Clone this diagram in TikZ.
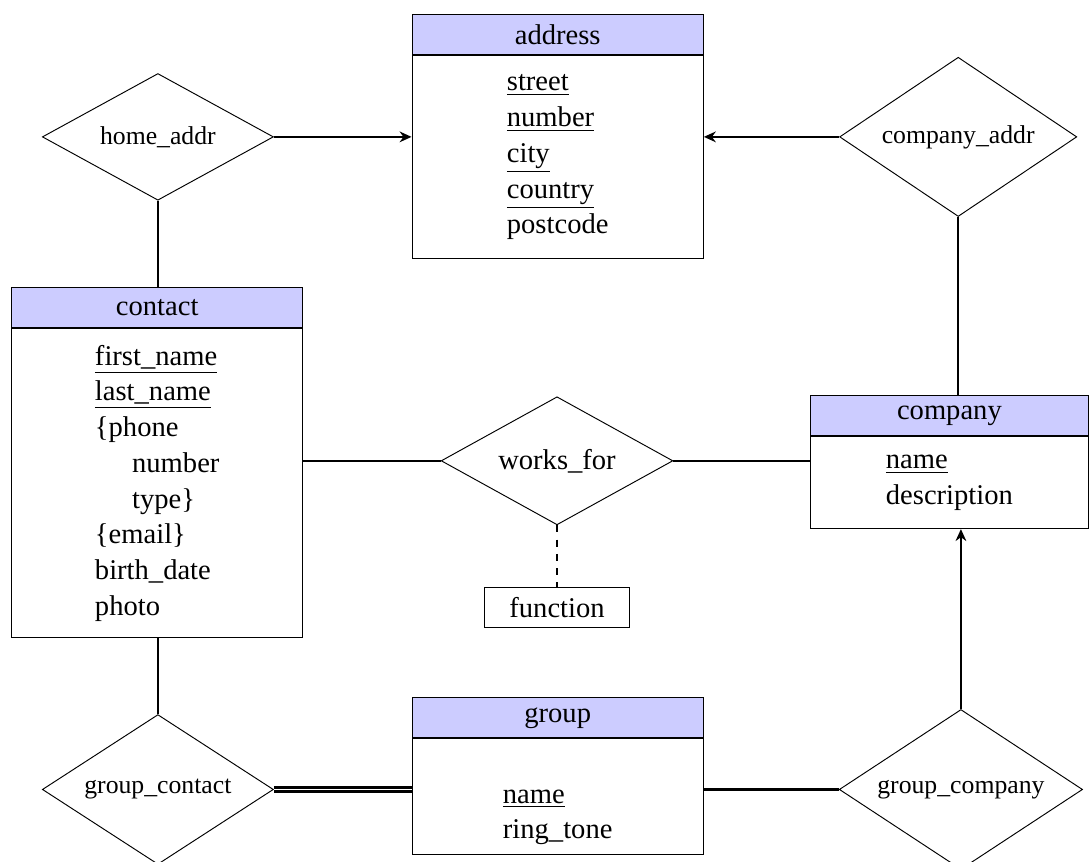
\documentclass[tikz,border=0pt]{standalone}
\usepackage{fontspec}
\setmainfont{Liberation Serif}
\usetikzlibrary{positioning, arrows.meta, shapes.geometric}

\begin{document}
\begin{tikzpicture}[every entity/.style={rectangle, draw, minimum width=4.3cm, inner sep=0pt, font=\fontsize{12}{15}\selectfont},
    entity head/.style={every entity, fill=blue!20, minimum height=0.59cm, anchor=north},
    entity body/.style={every entity, align=left},
    relation/.style={diamond, draw, aspect=2, inner sep=1pt, font=\fontsize{10.8}{13}\selectfont},
    link/.style={line width=1pt},
    >={Stealth[length=5pt, width=4.5pt]}]

    \useasboundingbox (0, 0) rectangle (16.07, -12.71);

    % Entities - blue header with attribute list below
    \node[entity head] (address-head) at (8.23, -0.21) {address};
    \node[entity body, minimum height=3.0cm, below=0pt of address-head] (address)
        {\underline{street}\\ \underline{number}\\ \underline{city}\\ \underline{country}\\ postcode};

    \node[entity head] (contact-head) at (2.32, -4.24) {contact};
    \node[entity body, minimum height=4.56cm, below=0pt of contact-head] (contact)
        {\underline{first\_name}\\ \underline{last\_name}\\ \{phone\\ \hspace*{1.3em}number\\ \hspace*{1.3em}type\}\\ \{email\}\\ birth\_date\\ photo};

    \node[entity head, minimum width=4.09cm] (company-head) at (14.01, -5.83) {company};
    \node[entity body, minimum width=4.09cm, minimum height=1.36cm, below=0pt of company-head] (company)
        {\underline{name}\\ description};

    \node[entity head] (group-head) at (8.23, -10.29) {group};
    \node[entity body, minimum height=1.71cm, below=0pt of group-head] (group)
        {\rule{0pt}{23pt}\underline{name}\\ ring\_tone};

    % Relationships - diamonds
    \node[relation, minimum width=3.41cm, minimum height=1.87cm] (home-addr) at (2.33, -2.02) {home\_addr};
    \node[relation, minimum width=3.50cm, minimum height=2.35cm] (company-addr) at (14.14, -2.02) {company\_addr};
    \node[relation, minimum width=3.42cm, minimum height=1.89cm, font=\fontsize{12}{15}\selectfont] (works-for) at (8.22, -6.80) {works\_for};
    \node[relation, minimum width=3.41cm, minimum height=2.21cm] (group-contact) at (2.33, -11.65) {group\_contact};
    \node[relation, minimum width=3.59cm, minimum height=2.36cm] (group-company) at (14.18, -11.65) {group\_company};

    % Attribute of works_for
    \node[draw, rectangle, minimum width=2.15cm, minimum height=0.59cm, font=\fontsize{12}{15}\selectfont] (function) at (8.22, -8.96) {function};

    % Connections
    \draw[link, ->] (home-addr) -- (home-addr -| address.west);
    \draw[link, ->] (company-addr) -- (company-addr -| address.east);
    \draw[link] (home-addr.south) -- (home-addr.south |- contact-head.north);
    \draw[link] (company-addr.south) -- (company-addr.south |- company-head.north);
    \draw[link] (works-for) -- (works-for -| contact.east);
    \draw[link] (works-for) -- (works-for -| company.west);
    \draw[link, dashed] (works-for) -- (function);
    \draw[link] (group-contact.north |- contact.south) -- (group-contact.north);
    \draw[link, double] (group-contact) -- (group-contact -| group.west);
    \draw[link] (group-company) -- (group-company -| group.east);
    \draw[link, ->] (group-company) -- (group-company |- company.south);

\end{tikzpicture}
\end{document}
